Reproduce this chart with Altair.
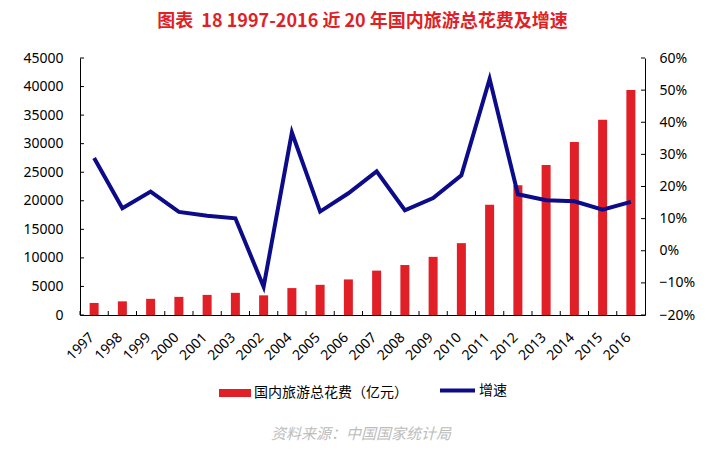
import altair as alt
import pandas as pd

years = ["1997", "1998", "1999", "2000", "2001", "2003", "2002", "2004", "2005", "2006",
         "2007", "2008", "2009", "2010", "2011", "2012", "2013", "2014", "2015", "2016"]
spending = [2112.7, 2391.2, 2831.9, 3175.5, 3522.4, 3878.4, 3442.3, 4710.7, 5285.9, 6229.7,
            7770.6, 8749.3, 10183.7, 12579.8, 19305.4, 22706.2, 26276.1, 30311.9, 34195.1, 39390.0]
growth = [0.289, 0.132, 0.184, 0.121, 0.109, 0.101, -0.112, 0.368, 0.122, 0.179,
          0.247, 0.126, 0.164, 0.235, 0.535, 0.176, 0.157, 0.154, 0.128, 0.152]
left_ticks = [0, 5000, 10000, 15000, 20000, 25000, 30000, 35000, 40000, 45000]
right_ticks = [-0.2, -0.1, 0.0, 0.1, 0.2, 0.3, 0.4, 0.5, 0.6]
series_bar = "国内旅游总花费（亿元）"
series_line = "增速"
title_text = "图表\u00a0 18 1997-2016 近 20 年国内旅游总花费及增速"
source_text = ["资料来源：中国国家统计局"]

RED = "#e01f27"
NAVY = "#0c0c8a"
FONT = "Noto Sans"
CJK = "Noto Sans CJK SC"
W, H = 565, 257

df = pd.DataFrame({"year": years, "spend": spending, "growth": growth,
                   "s1": series_bar, "s2": series_line})
df_lt = pd.DataFrame({"spend": left_ticks})
df_rt = pd.DataFrame({"growth": right_ticks})
df_src = pd.DataFrame({"t": source_text})

xenc = alt.X("year:N", sort=years, title=None,
             scale=alt.Scale(paddingInner=0, paddingOuter=0),
             axis=alt.Axis(labelAngle=-45, labelFontSize=14, labelFont=FONT,
                           labelColor="black", domainColor="black", ticks=False,
                           labelAlign="right", labelBaseline="middle",
                           labelPadding=20, labelOffset=-2))

left_axis = alt.Axis(values=left_ticks, format="d", grid=False, ticks=False,
                     domainColor="black", labelPadding=17, labelFontSize=14,
                     labelFont=FONT, labelColor="black")
right_axis = alt.Axis(orient="right", values=right_ticks, format=".0%", grid=False,
                      ticks=False, domainColor="black", labelPadding=14,
                      labelFontSize=14, labelFont=FONT, labelColor="black")
left_scale = alt.Scale(domain=[0, 45000], nice=False)
right_scale = alt.Scale(domain=[-0.2, 0.6], nice=False)

bars = alt.Chart(df).mark_bar(size=9).encode(
    x=xenc,
    y=alt.Y("spend:Q", title=None, scale=left_scale, axis=left_axis),
    fill=alt.Fill("s1:N", scale=alt.Scale(domain=[series_bar], range=[RED]),
                  legend=alt.Legend(title=None, orient="none", legendX=139, legendY=319,
                                    symbolType="M-1,-0.25H1V0.25H-1Z", symbolSize=1024,
                                    symbolStrokeWidth=0, labelFontSize=14, labelFont=CJK,
                                    labelColor="black", labelOffset=3)),
)

lticks = alt.Chart(df_lt).mark_rule(color="black", strokeWidth=1).encode(
    y=alt.Y("spend:Q", title=None, scale=left_scale, axis=left_axis),
    x=alt.value(0), x2=alt.value(4))

xticks = alt.Chart(df).mark_rule(color="black", strokeWidth=1).encode(
    x=alt.X("year:N", sort=years, bandPosition=0), y=alt.value(H), y2=alt.value(H - 4))

src = alt.Chart(df_src).mark_text(fontSize=15, font=CJK, fontStyle="italic",
                                  color="#bdbdbd").encode(
    text="t:N", x=alt.value(281), y=alt.value(376))

left = alt.layer(bars, lticks, xticks, src)

line = alt.Chart(df).mark_line(strokeWidth=4).encode(
    x=xenc,
    y=alt.Y("growth:Q", title=None, scale=right_scale, axis=right_axis),
    stroke=alt.Stroke("s2:N", scale=alt.Scale(domain=[series_line], range=[NAVY]),
                      legend=alt.Legend(title=None, orient="none", legendX=358, legendY=313,
                                        symbolType="stroke", symbolSize=1225,
                                        symbolStrokeWidth=4, labelFontSize=14,
                                        labelFont=CJK, labelColor="black", labelOffset=2)),
)

rticks = alt.Chart(df_rt).mark_rule(color="black", strokeWidth=1).encode(
    y=alt.Y("growth:Q", title=None, scale=right_scale, axis=right_axis),
    x=alt.value(W - 4), x2=alt.value(W))

right = alt.layer(line, rticks)

chart = alt.layer(left, right).resolve_scale(y="independent").properties(
    width=W, height=H,
    autosize=alt.AutoSizeParams(type="none"),
    padding={"left": 72, "top": 50, "right": 61, "bottom": 135},
    title=alt.TitleParams(title_text, fontSize=18, font=CJK, fontWeight="bold",
                          color=RED, anchor="middle", offset=20),
).configure_view(stroke=None)

chart.save("out.html", embed_options={"renderer": "svg", "actions": False})
